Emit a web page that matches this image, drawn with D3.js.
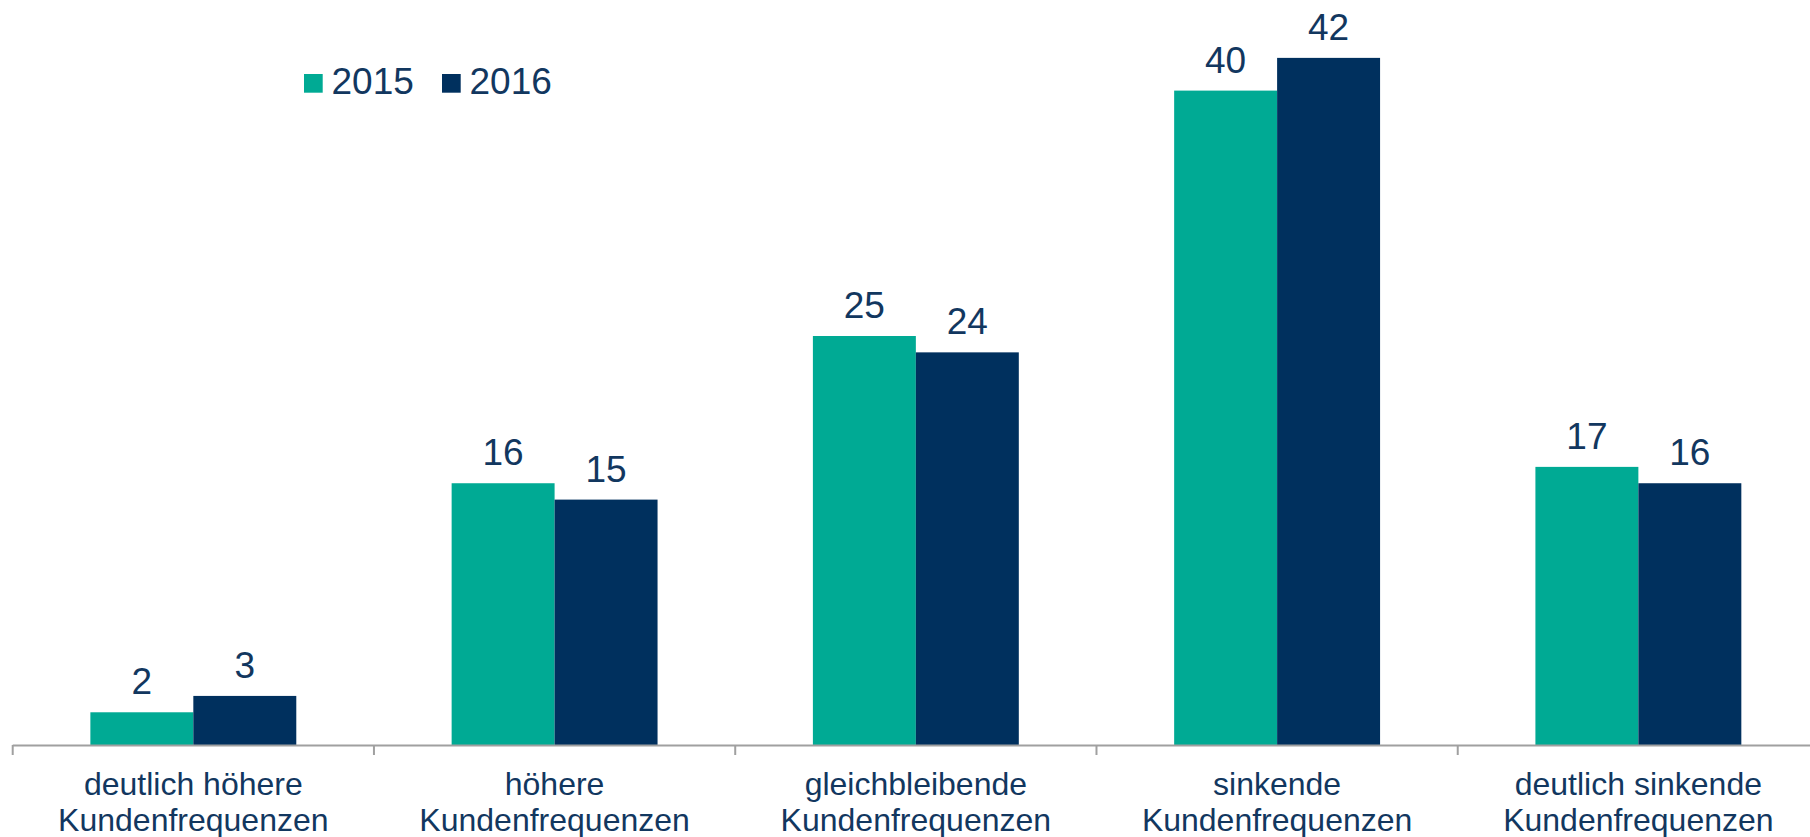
<!DOCTYPE html>
<html>
<head>
<meta charset="utf-8">
<script src="https://cdn.jsdelivr.net/npm/d3@7"></script>
<style>
  html, body { margin: 0; padding: 0; background: #ffffff; overflow: hidden; }
  svg { display: block; font-family: "Liberation Sans", Arial, sans-serif; }
</style>
</head>
<body>
<svg id="chart" width="1810" height="837"></svg>
<script>
const categories = [
  ["deutlich höhere", "Kundenfrequenzen"],
  ["höhere", "Kundenfrequenzen"],
  ["gleichbleibende", "Kundenfrequenzen"],
  ["sinkende", "Kundenfrequenzen"],
  ["deutlich sinkende", "Kundenfrequenzen"]
];
const seriesNames = ["2015", "2016"];
const values2015 = [2, 16, 25, 40, 17];
const values2016 = [3, 15, 24, 42, 16];
const seriesColors = ["#00aa94", "#00305e"];
const textColor = "#12375f";

const svg = d3.select("#chart");
const W = 1810, H = 837;
const baseY = 745;
const left = 12.7, right = 1819;

const catIdx = d3.range(categories.length);
const axisBand = d3.scaleBand().domain(catIdx).range([left, right]).padding(0);
const x0 = d3.scaleBand().domain(catIdx).range([left, right]).paddingInner(0.43).paddingOuter(0.215);
const x1 = d3.scaleBand().domain(seriesNames).range([0, x0.bandwidth()]).padding(0);
const y = d3.scaleLinear().domain([0, 45]).range([baseY, baseY - 45 * 16.36]);

const data = catIdx.map(i => ({ i, vals: [values2015[i], values2016[i]] }));

const groups = svg.append("g").selectAll("g").data(data).join("g")
  .attr("transform", d => `translate(${x0(d.i)},0)`);

groups.selectAll("rect").data(d => d.vals.map((v, k) => ({ v, k })))
  .join("rect")
  .attr("x", d => x1(seriesNames[d.k]))
  .attr("y", d => y(d.v))
  .attr("width", x1.bandwidth())
  .attr("height", d => y(0) - y(d.v))
  .attr("fill", d => seriesColors[d.k]);

groups.selectAll("text.val").data(d => d.vals.map((v, k) => ({ v, k })))
  .join("text")
  .attr("class", "val")
  .attr("x", d => x1(seriesNames[d.k]) + x1.bandwidth() / 2)
  .attr("y", d => y(d.v) - 18)
  .attr("text-anchor", "middle")
  .attr("font-size", 37)
  .attr("fill", textColor)
  .text(d => d.v);

// axis
const axisG = svg.append("g");
axisG.append("line")
  .attr("x1", left).attr("x2", W)
  .attr("y1", baseY + 0.5).attr("y2", baseY + 0.5)
  .attr("stroke", "#a0a0a0").attr("stroke-width", 2);
const tickPos = catIdx.map(i => axisBand(i)).concat([axisBand(catIdx.length - 1) + axisBand.bandwidth()]);
axisG.selectAll("line.tick").data(tickPos).join("line")
  .attr("class", "tick")
  .attr("x1", d => d).attr("x2", d => d)
  .attr("y1", baseY).attr("y2", baseY + 10)
  .attr("stroke", "#a0a0a0").attr("stroke-width", 2);

const labels = axisG.selectAll("text.cat").data(catIdx).join("text")
  .attr("class", "cat")
  .attr("text-anchor", "middle")
  .attr("font-size", 32)
  .attr("fill", textColor);
labels.each(function(i) {
  const t = d3.select(this);
  const cx = axisBand(i) + axisBand.bandwidth() / 2;
  categories[i].forEach((line, j) => {
    t.append("tspan").attr("x", cx).attr("y", 795 + j * 36).text(line);
  });
});

// legend
const legend = svg.append("g");
const legendX = [304, 442];
seriesNames.forEach((name, k) => {
  legend.append("rect")
    .attr("x", legendX[k]).attr("y", 74)
    .attr("width", 18.7).attr("height", 18.7)
    .attr("fill", seriesColors[k]);
  legend.append("text")
    .attr("x", legendX[k] + 27.5).attr("y", 93.5)
    .attr("font-size", 37)
    .attr("fill", textColor)
    .text(name);
});
</script>
</body>
</html>
